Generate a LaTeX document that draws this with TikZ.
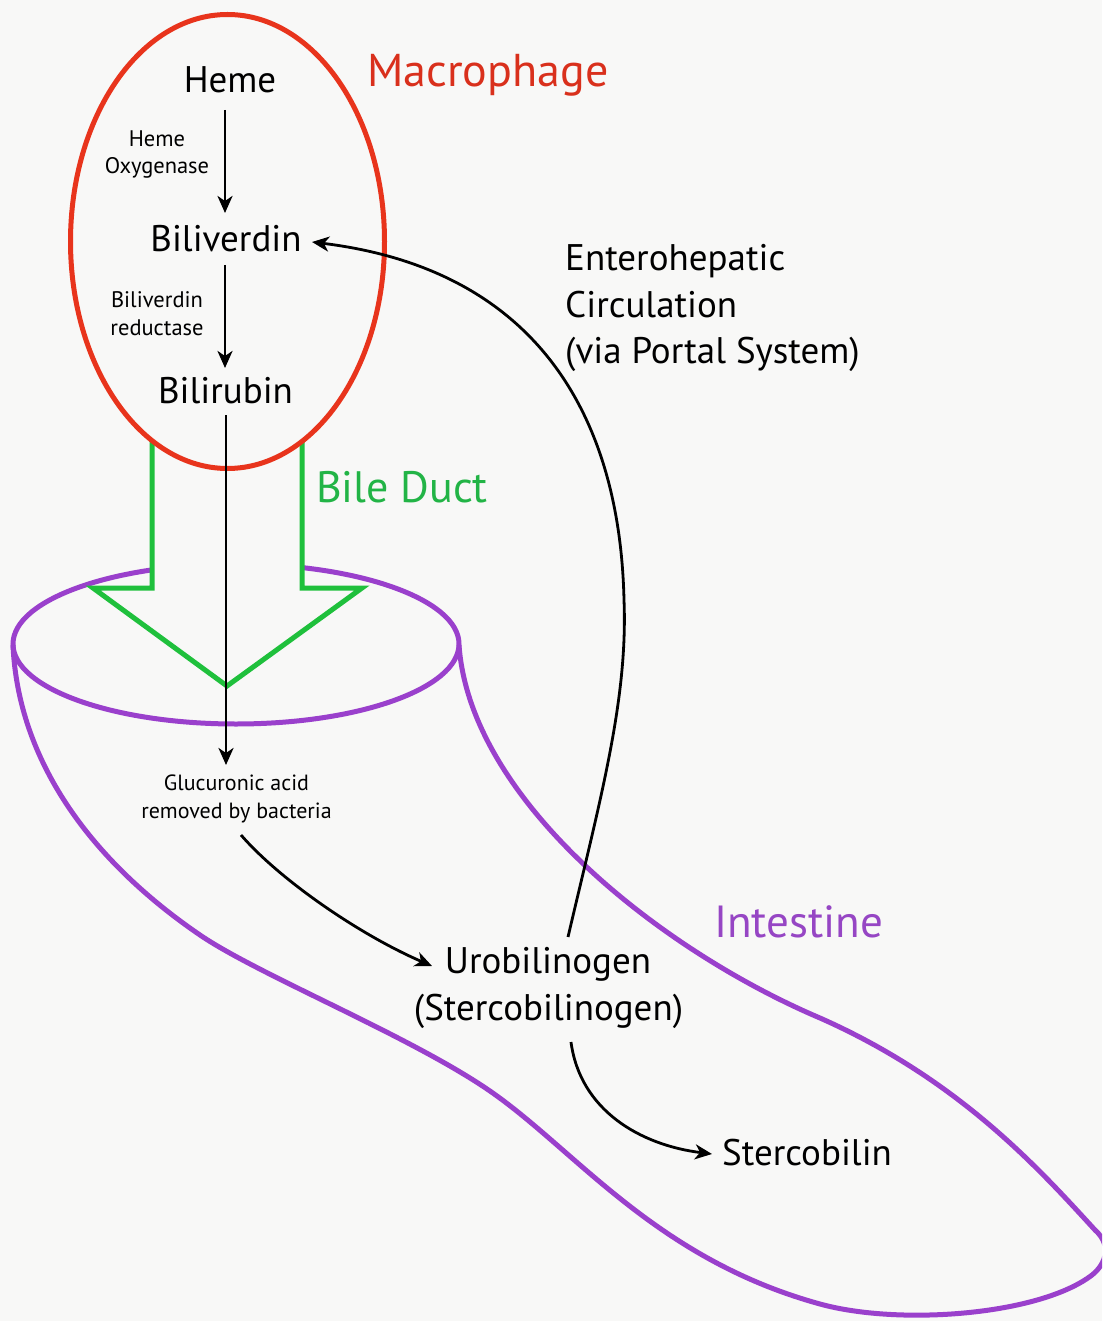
\documentclass[tikz,border=0pt]{standalone}
\usepackage{fontspec}
\setmainfont{PT Sans}
\usetikzlibrary{arrows.meta,calc}
\definecolor{bg}{HTML}{F8F8F7}
\definecolor{macred}{HTML}{E8341C}
\definecolor{macredtxt}{HTML}{D9301C}
\definecolor{ductgreen}{HTML}{1FC03C}
\definecolor{ductgreentxt}{HTML}{22B446}
\definecolor{intpurple}{HTML}{9A40CC}
\definecolor{intpurpletxt}{HTML}{9646C4}
\tikzset{
  lbl/.style={inner sep=0pt, anchor=base},
  big/.style={lbl, font=\fontsize{37}{40}\selectfont},
  small/.style={lbl, font=\fontsize{22.5}{25}\selectfont},
  title/.style={inner sep=0pt, anchor=base west, font=\fontsize{46}{50}\selectfont},
  arr/.style={-{Stealth[length=17pt,width=15pt,inset=5pt]}, line width=2.8pt, black},
}
\begin{document}
\begin{tikzpicture}[x=1pt,y=-1pt]
\fill[bg] (0,0) rectangle (1102,1321);
\useasboundingbox (0,0) rectangle (1102,1321);

% intestine
\begin{scope}
\clip (0,0) rectangle (1102,1321);
\draw[intpurple, line width=5pt, line join=round]
  (13,645) .. controls (18,760) and (90,860) .. (200,935)
  .. controls (260,976) and (420,1040) .. (497,1096)
  .. controls (580,1156) and (660,1260) .. (820,1304)
  .. controls (900,1326) and (1040,1315) .. (1092,1275)
  .. controls (1106,1264) and (1112,1245) .. (1095,1230)
  .. controls (1040,1170) and (960,1080) .. (820,1018)
  .. controls (660,950) and (470,800) .. (459,645);
\draw[intpurple, line width=5pt] (236,644) ellipse [x radius=223, y radius=80];
\end{scope}

% bile duct arrow
\draw[ductgreen, line width=5pt, fill=bg, line join=miter]
  (152,400) -- (152,588) -- (93,588) -- (227,686) -- (362,588) -- (302,588) -- (302,400) -- cycle;

% macrophage
\draw[macred, line width=5pt, fill=bg] (227.5,241.5) ellipse [x radius=157, y radius=227];

% texts
\node[title, text=macredtxt] (macro) at (367,87) {Macrophage};
\node[title, text=ductgreentxt, font=\fontsize{44}{48}\selectfont] (bile) at (316,502) {Bile Duct};
\node[title, text=intpurpletxt, font=\fontsize{45}{48}\selectfont] (intest) at (714,937) {Intestine};

\node[big] (heme) at (230,93) {Heme};
\node[small] (ho1) at (157,147) {Heme};
\node[small] (ho2) at (157,174) {Oxygenase};
\node[big] (biliverdin) at (226,252) {Biliverdin};
\node[small] (br1) at (157,308) {Biliverdin};
\node[small] (br2) at (157,335) {reductase};
\node[big] (bilirubin) at (225.5,403) {Bilirubin};

\node[big, anchor=base west] (ent1) at (565,271) {Enterohepatic};
\node[big, anchor=base west] (ent2) at (565,317) {Circulation};
\node[big, anchor=base west] (ent3) at (565,363) {(via Portal System)};

\node[small, font=\fontsize{22}{25}\selectfont] (gluc1) at (236.5,790) {Glucuronic acid};
\node[small, font=\fontsize{22}{25}\selectfont] (gluc2) at (236.5,818) {removed by bacteria};

\node[big] (uro) at (548,973) {Urobilinogen};
\node[big] (uro2) at (548.5,1020) {(Stercobilinogen)};
\node[big, anchor=base west] (sterco) at (722,1165) {Stercobilin};

% connectors
\draw[arr] ($(heme.base)+(-5,17)$) -- ($(biliverdin.base)+(-1,-39)$);
\draw[arr] ($(biliverdin.base)+(-1,13)$) -- ($(bilirubin.base)+(-0.5,-35)$);
\draw[arr] ($(bilirubin.base)+(0.5,12)$) -- ($(gluc1.base)+(-10.5,-25)$);
\draw[arr] ($(gluc2.base)+(4.5,17)$) .. controls +(39,45) and +(-72,-31) .. ($(uro.base)+(-116,-7)$);
\coordinate (ehc) at (624,600);
\draw[arr] ($(uro.base)+(20,-36)$) .. controls +(32,-137) and +(4,100) .. (ehc)
   .. controls +(-4,-180) and +(228,28) .. ($(biliverdin.base)+(86,-10)$);
\draw[arr] ($(uro2.base)+(22.5,22)$) .. controls +(9,68) and +(-72,-9) .. ($(sterco.base west)+(-10,-11)$);
\end{tikzpicture}
\end{document}
